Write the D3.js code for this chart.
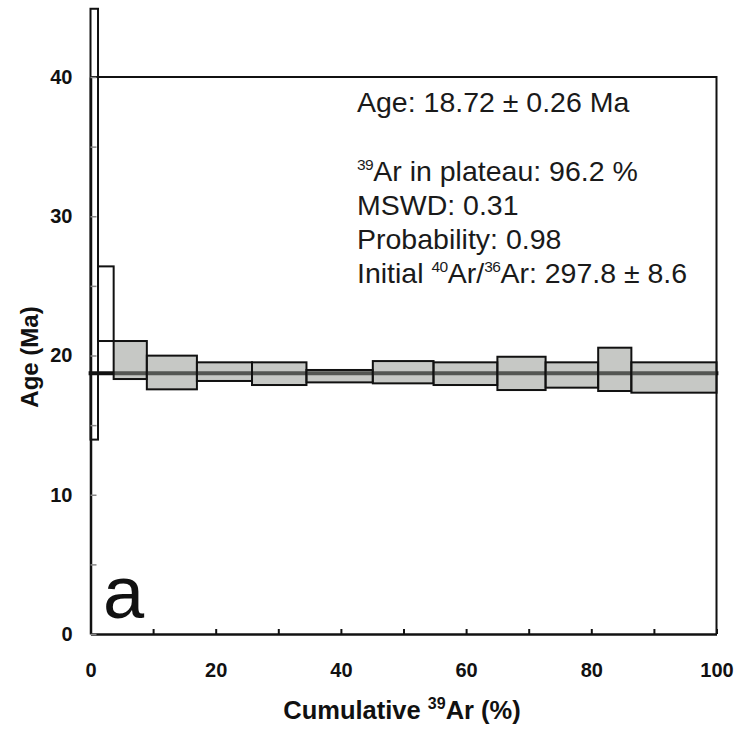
<!DOCTYPE html>
<html>
<head>
<meta charset="utf-8">
<script src="https://cdn.jsdelivr.net/npm/d3@7"></script>
<style>
  body { margin: 0; background: #fff; }
  svg { display: block; font-family: "Liberation Sans", Arial, sans-serif; }
</style>
</head>
<body>
<svg id="chart"></svg>
<script>
// step boundaries on the cumulative 39Ar axis (%)
const cumulative39Ar = [0, 1.2, 3.7, 9.0, 17.0, 25.8, 34.5, 45.1, 54.8, 65.0, 72.7, 81.1, 86.4, 100];
// age error box of each step (Ma)
const ageHigh = [44.9, 26.4, 21.04, 19.99, 19.51, 19.51, 18.96, 19.6, 19.51, 19.91, 19.51, 20.56, 19.51];
const ageLow = [13.96, 21.04, 18.31, 17.57, 18.17, 17.88, 18.07, 18.0, 17.88, 17.52, 17.69, 17.45, 17.33];
const inPlateau = [false, false, true, true, true, true, true, true, true, true, true, true, true];
const plateauAge = 18.72;
const xTicks = [0, 10, 20, 30, 40, 50, 60, 70, 80, 90, 100];
const yTicks = [0, 5, 10, 15, 20, 25, 30, 35, 40];

let width = 734;
let height = 730;

var svg = d3.select("#chart").attr("width", width).attr("height", height);

var x = d3.scaleLinear().domain([0, 100]).range([90.5, 716.5]);
var y = d3.scaleLinear().domain([0, 40]).range([634, 77]);

let steps = ageHigh.map(function (h, i) {
  return { x0: cumulative39Ar[i], x1: cumulative39Ar[i + 1], hi: h, lo: ageLow[i], plateau: inPlateau[i] };
});

// frame (top and right)
svg.append("path")
  .attr("d", "M" + x(0) + "," + y(40) + "H" + x(100) + "V" + y(0))
  .attr("fill", "none")
  .attr("stroke", "#111")
  .attr("stroke-width", 2);

// plateau age line
svg.append("line")
  .attr("x1", x(-0.3)).attr("x2", x(100.3))
  .attr("y1", y(plateauAge)).attr("y2", y(plateauAge))
  .attr("stroke", "#111")
  .attr("stroke-width", 4);

// step boxes
svg.selectAll("rect.step")
  .data(steps)
  .enter()
  .append("rect")
  .attr("class", "step")
  .attr("x", function (d) { return x(d.x0); })
  .attr("y", function (d) { return y(d.hi); })
  .attr("width", function (d) { return x(d.x1) - x(d.x0); })
  .attr("height", function (d) { return y(d.lo) - y(d.hi); })
  .attr("fill", function (d) { return d.plateau ? "rgba(146,150,144,0.52)" : "none"; })
  .attr("stroke", "#111")
  .attr("stroke-width", 2);

// axes
var xAxis = d3.axisBottom(x)
  .tickValues(xTicks)
  .tickSizeInner(-5)
  .tickSizeOuter(0)
  .tickPadding(29)
  .tickFormat(function (d) { return d % 20 === 0 ? d : ""; });

var yAxis = d3.axisLeft(y)
  .tickValues(yTicks)
  .tickSizeInner(-6)
  .tickSizeOuter(0)
  .tickPadding(18)
  .tickFormat(function (d) { return d % 10 === 0 ? d : ""; });

var gx = svg.append("g").attr("transform", "translate(0," + y(0) + ")").call(xAxis);
var gy = svg.append("g").attr("transform", "translate(" + x(0) + ",0)").call(yAxis);

[gx, gy].forEach(function (g) {
  g.select(".domain").attr("stroke", "#111").attr("stroke-width", 2.5);
  g.selectAll(".tick text")
    .attr("font-family", "'Liberation Sans', Arial, sans-serif")
    .attr("font-size", "20px")
    .attr("font-weight", "bold")
    .attr("fill", "#111");
});
gx.selectAll(".tick line").attr("stroke", "#111").attr("stroke-width", 2);
gy.selectAll(".tick line").attr("stroke", "#888").attr("stroke-width", 1.5);

// axis titles
svg.append("text")
  .attr("transform", "translate(38,357) rotate(-90)")
  .attr("text-anchor", "middle")
  .attr("font-size", "24px")
  .attr("font-weight", "bold")
  .attr("fill", "#111")
  .text("Age (Ma)");

var xt = svg.append("text")
  .attr("x", 402)
  .attr("y", 719)
  .attr("text-anchor", "middle")
  .attr("font-size", "25.5px")
  .attr("font-weight", "bold")
  .attr("fill", "#111");
xt.append("tspan").text("Cumulative ");
xt.append("tspan").attr("font-size", "16px").attr("dy", -10).text("39");
xt.append("tspan").attr("dy", 10).text("Ar (%)");

// panel letter
svg.append("text")
  .attr("x", 103)
  .attr("y", 618)
  .attr("font-size", "74px")
  .attr("fill", "#111")
  .text("a");

// plateau statistics
var info = svg.append("g").attr("font-size", "28.5px").attr("fill", "#1a1a1a");

function addLine(yy, parts) {
  var t = info.append("text").attr("x", 357).attr("y", yy);
  var raised = false;
  parts.forEach(function (p) {
    if (p.sup) {
      t.append("tspan").attr("font-size", "15.5px").attr("letter-spacing", "-0.5px")
        .attr("dy", raised ? 0 : -11).text(p.sup);
      raised = true;
    } else {
      t.append("tspan").attr("dy", raised ? 11 : 0).text(p.t);
      raised = false;
    }
  });
}

addLine(112, [{ t: "Age: 18.72 ± 0.26 Ma" }]);
addLine(181, [{ sup: "39" }, { t: "Ar in plateau: 96.2 %" }]);
addLine(215, [{ t: "MSWD: 0.31" }]);
addLine(249, [{ t: "Probability: 0.98" }]);
addLine(283, [{ t: "Initial " }, { sup: "40" }, { t: "Ar/" }, { sup: "36" }, { t: "Ar: 297.8 ± 8.6" }]);
</script>
</body>
</html>
